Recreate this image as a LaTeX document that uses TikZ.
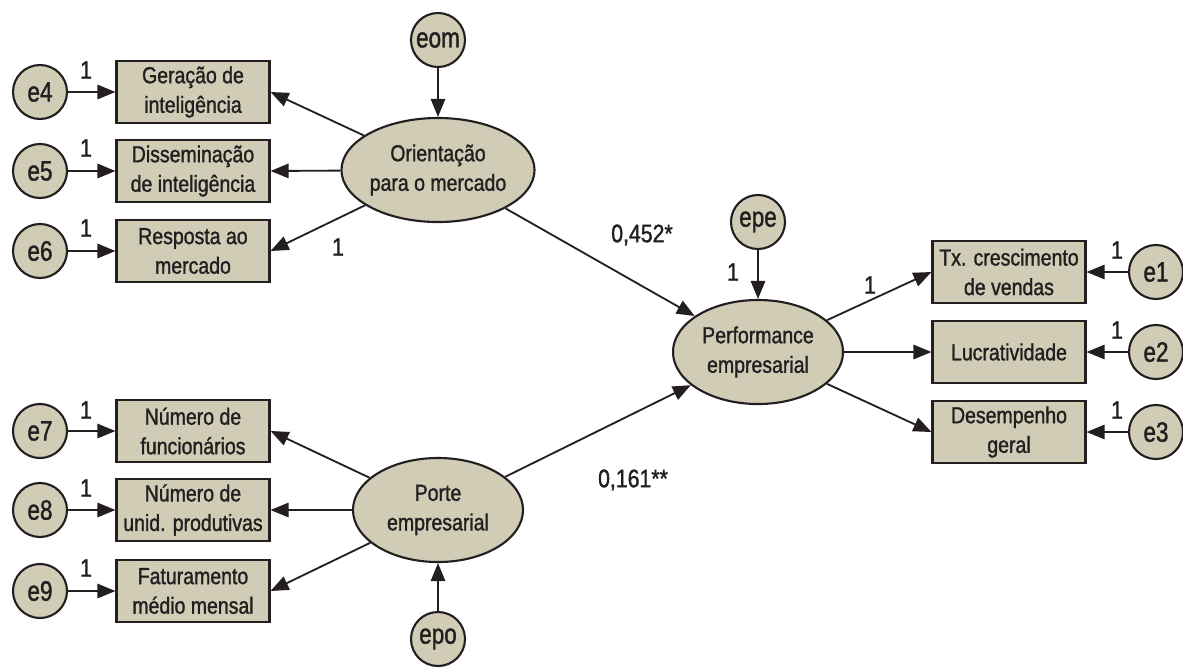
\documentclass[tikz,border=0pt]{standalone}
\usepackage{fontspec}
\setmainfont{Liberation Sans}[FakeStretch=0.84, FakeBold=1.3]
\newfontfamily\errfont{Liberation Sans}[FakeStretch=0.8, FakeBold=1.3]
\usetikzlibrary{arrows.meta,shapes.geometric}
\definecolor{semfill}{RGB}{208,204,182}
\definecolor{semline}{RGB}{35,31,32}

\begin{document}
\begin{tikzpicture}[x=0.025cm, y=-0.025cm,
  font=\fontsize{16.5}{21}\selectfont,
  every node/.style={draw=semline, fill=semfill, line width=1.5pt, align=center, inner sep=0pt, text=semline},
  obs/.style={rectangle, minimum width=3.825cm, minimum height=1.55cm},
  lat/.style={ellipse, minimum width=4.25cm, minimum height=2.6cm},
  err/.style={circle, minimum size=1.35cm, font=\errfont\fontsize{20}{22}\selectfont},
  lbl/.style={draw=none, fill=none, font=\fontsize{18}{20}\selectfont},
  link/.style={-{Triangle[length=4.5mm,width=3.6mm]}, line width=1.3pt, draw=semline}]
  \useasboundingbox (0,0) rectangle (1183,667);

  % orientacao para o mercado
  \node[err] (eom)    at (438, 40)  {eom};
  \node[lat] (orient) at (438, 170) {Orientação\\para o mercado};
  \node[obs] (gera)   at (193, 92)  {Geração de\\inteligência};
  \node[obs] (diss)   at (193, 171) {Disseminação\\de inteligência};
  \node[obs] (resp)   at (193, 251) {Resposta ao\\mercado};
  \node[err] (e4)     at (40, 92)   {e4};
  \node[err] (e5)     at (40, 171)  {e5};
  \node[err] (e6)     at (40, 251)  {e6};

  % porte empresarial
  \node[lat] (porte)  at (438, 510) {Porte\\empresarial};
  \node[obs] (func)   at (193, 431) {Número de\\funcionários};
  \node[obs] (unid)   at (193, 510) {Número de\\unid. produtivas};
  \node[obs] (fat)    at (193, 591) {Faturamento\\médio mensal};
  \node[err] (e7)     at (40, 431)  {e7};
  \node[err] (e8)     at (40, 510)  {e8};
  \node[err] (e9)     at (40, 591)  {e9};
  \node[err] (epo)    at (438, 639) {epo};

  % performance empresarial
  \node[lat] (perf)   at (758, 352) {Performance\\empresarial};
  \node[err] (epe)    at (758, 222) {epe};
  \node[obs] (tx)     at (1009, 272) {Tx. crescimento\\de vendas};
  \node[obs] (luc)    at (1009, 352) {Lucratividade};
  \node[obs] (des)    at (1009, 432) {Desempenho\\geral};
  \node[err] (e1)     at (1156, 272) {e1};
  \node[err] (e2)     at (1156, 352) {e2};
  \node[err] (e3)     at (1156, 432) {e3};

  % coeficientes
  \node[lbl] (l4)   at (86, 70)   {1};
  \node[lbl] (l5)   at (86, 148)  {1};
  \node[lbl] (l6)   at (86, 228)  {1};
  \node[lbl] (l7)   at (86, 410)  {1};
  \node[lbl] (l8)   at (86, 488)  {1};
  \node[lbl] (l9)   at (86, 568)  {1};
  \node[lbl] (lres) at (338, 247) {1};
  \node[lbl] (lepe) at (733, 272) {1};
  \node[lbl] (ltx)  at (870, 285) {1};
  \node[lbl] (l1)   at (1117, 250) {1};
  \node[lbl] (l2)   at (1117, 330) {1};
  \node[lbl] (l3)   at (1117, 410) {1};
  \node[lbl] (cor)  at (642, 235) {0,452*};
  \node[lbl] (cpo)  at (633, 480) {0,161**};

  \draw[link] (eom) -- (orient);
  \draw[link] (orient) -- (gera.east);
  \draw[link] (orient) -- (diss.east);
  \draw[link] (orient) -- (resp.east);
  \draw[link] (e4) -- (gera);
  \draw[link] (e5) -- (diss);
  \draw[link] (e6) -- (resp);

  \draw[link] (epo) -- (porte);
  \draw[link] (porte) -- (func.east);
  \draw[link] (porte) -- (unid.east);
  \draw[link] (porte) -- (fat.east);
  \draw[link] (e7) -- (func);
  \draw[link] (e8) -- (unid);
  \draw[link] (e9) -- (fat);

  \draw[link] (orient) -- (perf);
  \draw[link] (porte) -- (perf);
  \draw[link] (epe) -- (perf);
  \draw[link] (perf) -- (tx.west);
  \draw[link] (perf) -- (luc);
  \draw[link] (perf) -- (des.west);
  \draw[link] (e1) -- (tx);
  \draw[link] (e2) -- (luc);
  \draw[link] (e3) -- (des);
\end{tikzpicture}
\end{document}
